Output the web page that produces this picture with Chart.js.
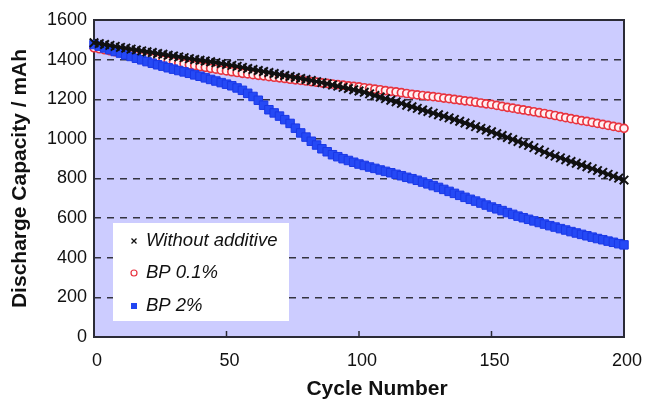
<!DOCTYPE html>
<html>
<head>
<meta charset="utf-8">
<script src="https://cdn.jsdelivr.net/npm/chart.js@4.4.0/dist/chart.umd.min.js"></script>
<style>
  body { margin: 0; background: #fff; }
  canvas { display: block; }
</style>
</head>
<body>
<canvas id="capChart" width="648" height="399"></canvas>
<script>
// cycle numbers (every 2nd cycle)
const cycles = [0, 2, 4, 6, 8, 10, 12, 14, 16, 18, 20, 22, 24, 26, 28, 30, 32, 34, 36, 38,
    40, 42, 44, 46, 48, 50, 52, 54, 56, 58, 60, 62, 64, 66, 68, 70, 72, 74, 76, 78,
    80, 82, 84, 86, 88, 90, 92, 94, 96, 98, 100, 102, 104, 106, 108, 110, 112, 114, 116, 118,
    120, 122, 124, 126, 128, 130, 132, 134, 136, 138, 140, 142, 144, 146, 148, 150, 152, 154, 156, 158,
    160, 162, 164, 166, 168, 170, 172, 174, 176, 178, 180, 182, 184, 186, 188, 190, 192, 194, 196, 198, 200];

const withoutAdditive = [1485, 1481, 1476, 1472, 1467, 1462, 1458, 1453, 1449, 1444, 1440, 1436, 1431, 1427, 1422, 1418, 1414, 1410, 1405, 1401,
    1397, 1393, 1389, 1385, 1380, 1376, 1371, 1366, 1361, 1355, 1350, 1345, 1340, 1335, 1330, 1325, 1320, 1315, 1310, 1305,
    1300, 1295, 1289, 1284, 1278, 1272, 1266, 1260, 1254, 1248, 1242, 1235, 1227, 1219, 1211, 1203, 1195, 1187, 1179, 1170,
    1162, 1154, 1146, 1138, 1130, 1122, 1114, 1106, 1098, 1089, 1080, 1071, 1062, 1053, 1045, 1036, 1026, 1017, 1007, 997,
    987, 977, 967, 956, 944, 933, 922, 913, 904, 895, 886, 877, 868, 859, 850, 840, 831, 821, 811, 802, 792];

const bp01 = [1460, 1455, 1450, 1445, 1440, 1435, 1430, 1425, 1420, 1415, 1410, 1406, 1401, 1397, 1392, 1388, 1383, 1379, 1374, 1370,
    1365, 1361, 1356, 1352, 1347, 1343, 1339, 1335, 1331, 1328, 1324, 1321, 1318, 1314, 1311, 1308, 1305, 1301, 1298, 1295,
    1292, 1289, 1286, 1283, 1280, 1277, 1274, 1271, 1268, 1265, 1262, 1258, 1255, 1251, 1248, 1244, 1240, 1237, 1233, 1229,
    1225, 1222, 1219, 1216, 1213, 1210, 1206, 1203, 1199, 1196, 1192, 1189, 1185, 1181, 1177, 1174, 1169, 1164, 1159, 1155,
    1150, 1146, 1141, 1137, 1132, 1128, 1123, 1118, 1112, 1107, 1102, 1097, 1092, 1088, 1083, 1078, 1073, 1068, 1063, 1058, 1053];

const bp2 = [1476, 1468, 1459, 1450, 1441, 1433, 1424, 1416, 1407, 1399, 1390, 1382, 1374, 1367, 1359, 1352, 1345, 1338, 1331, 1323,
    1316, 1308, 1300, 1292, 1284, 1276, 1268, 1257, 1245, 1230, 1214, 1195, 1170, 1147, 1131, 1115, 1097, 1078, 1054, 1030,
    1009, 988, 969, 950, 935, 920, 910, 900, 891, 882, 873, 866, 858, 851, 843, 836, 829, 821, 814, 806,
    799, 791, 782, 773, 764, 755, 745, 735, 725, 715, 705, 695, 686, 676, 666, 656, 647, 638, 628, 619,
    610, 602, 594, 586, 578, 570, 562, 555, 547, 540, 532, 525, 518, 511, 504, 497, 491, 484, 478, 471, 465];

const seriesNames = ['Without additive', 'BP 0.1%', 'BP 2%'];
const xTicks = [0, 50, 100, 150, 200];

const FONT = "'Liberation Sans', Arial, sans-serif";

function points(vals) {
    return cycles.map((c, i) => ({ x: c, y: vals[i] }));
}

// lavender plot area, frame and inward x tick marks
const plotFrame = {
    id: 'plotFrame',
    beforeDraw(chart) {
        const { ctx, chartArea: a } = chart;
        ctx.save();
        ctx.fillStyle = '#ccccff';
        ctx.fillRect(a.left, a.top, a.right - a.left, a.bottom - a.top);
        ctx.restore();
    },
    beforeDatasetsDraw(chart) {
        const { ctx, chartArea: a } = chart;
        const xs = chart.scales.x;
        ctx.save();
        ctx.strokeStyle = '#2b2b36';
        ctx.lineWidth = 2;
        ctx.strokeRect(a.left, a.top, a.right - a.left, a.bottom - a.top);
        ctx.lineWidth = 1.5;
        xTicks.slice(1, -1).forEach(v => {
            const px = xs.getPixelForValue(v);
            ctx.beginPath();
            ctx.moveTo(px, a.bottom);
            ctx.lineTo(px, a.bottom - 6);
            ctx.stroke();
        });
        ctx.restore();
    }
};

// white legend box in lower left of the plot, and the x axis title
const boxLegend = {
    id: 'boxLegend',
    afterDatasetsDraw(chart) {
        const { ctx, chartArea: a } = chart;
        const bx = a.left + 19, by = a.bottom - 114;
        ctx.save();
        ctx.fillStyle = '#ffffff';
        ctx.fillRect(bx, by, 176, 98);
        ctx.font = 'italic 18.5px ' + FONT;
        ctx.textBaseline = 'middle';
        ctx.fillStyle = '#111';
        const rows = [18, 50, 83];
        rows.forEach((dy, i) => {
            const mx = bx + 21, my = by + dy;
            if (i === 0) {
                ctx.strokeStyle = '#111';
                ctx.lineWidth = 1.3;
                ctx.beginPath();
                ctx.moveTo(mx - 2.5, my - 2.5); ctx.lineTo(mx + 2.5, my + 2.5);
                ctx.moveTo(mx + 2.5, my - 2.5); ctx.lineTo(mx - 2.5, my + 2.5);
                ctx.stroke();
            } else if (i === 1) {
                ctx.strokeStyle = '#e8333f';
                ctx.lineWidth = 1.2;
                ctx.beginPath();
                ctx.arc(mx, my, 3, 0, Math.PI * 2);
                ctx.stroke();
            } else {
                ctx.fillStyle = '#2246f2';
                ctx.fillRect(mx - 3, my - 3, 6, 6);
            }
            ctx.fillStyle = '#111';
            ctx.fillText(seriesNames[i], bx + 33, my);
        });

        ctx.font = 'bold 21px ' + FONT;
        ctx.textAlign = 'center';
        ctx.textBaseline = 'middle';
        ctx.fillText('Cycle Number', (a.left + a.right) / 2 + 18, 389);
        ctx.restore();
    }
};

new Chart(document.getElementById('capChart'), {
    type: 'scatter',
    data: {
        datasets: [
            {
                label: seriesNames[0],
                data: points(withoutAdditive),
                showLine: true,
                borderWidth: 3,
                borderColor: '#111111',
                pointStyle: 'crossRot',
                pointRadius: 6,
                pointBorderColor: '#111111',
                pointBackgroundColor: '#111111',
                pointBorderWidth: 2,
                order: 0
            },
            {
                label: seriesNames[1],
                data: points(bp01),
                showLine: true,
                borderWidth: 2,
                borderColor: '#e8333f',
                pointStyle: 'circle',
                pointRadius: 4,
                pointBorderColor: '#e8333f',
                pointBackgroundColor: '#fff0f2',
                pointBorderWidth: 1.7,
                order: 2
            },
            {
                label: seriesNames[2],
                data: points(bp2),
                showLine: true,
                borderWidth: 6,
                borderColor: '#2549f5',
                pointStyle: 'rect',
                pointRadius: 6,
                pointBorderColor: '#1a38e6',
                pointBackgroundColor: '#2549f5',
                pointBorderWidth: 1,
                order: 1
            }
        ]
    },
    options: {
        responsive: false,
        animation: false,
        clip: false,
        layout: { padding: { left: 0, top: 20, right: 24, bottom: 0 } },
        plugins: {
            legend: { display: false },
            tooltip: { enabled: false }
        },
        scales: {
            x: {
                type: 'linear',
                min: 0,
                max: 200,
                afterFit(scale) {
                    scale.height = 62;
                    scale.paddingLeft = 0;
                    scale.paddingRight = 0;
                },
                afterBuildTicks(scale) {
                    scale.ticks = xTicks.map(v => ({ value: v }));
                },
                grid: { display: false },
                border: { display: false },
                ticks: {
                    font: { family: FONT, size: 18 },
                    color: '#111',
                    padding: 5,
                    labelOffset: 3,
                    maxRotation: 0,
                    autoSkip: false,
                    callback: v => String(v)
                }
            },
            y: {
                min: 0,
                max: 1600,
                afterFit(scale) {
                    scale.width = 94;
                },
                grid: {
                    drawTicks: false,
                    lineWidth: 1.5,
                    color: ctx => (ctx.tick && (ctx.tick.value === 0 || ctx.tick.value === 1600)) ? 'rgba(0,0,0,0)' : '#333340'
                },
                border: { display: false, dash: [7, 6] },
                ticks: {
                    stepSize: 200,
                    font: { family: FONT, size: 18 },
                    color: '#111',
                    padding: 7,
                    callback: v => String(v)
                },
                title: {
                    display: true,
                    text: 'Discharge Capacity / mAh',
                    font: { family: FONT, size: 21, weight: 'bold' },
                    color: '#111',
                    padding: { top: 8, bottom: 0 }
                }
            }
        }
    },
    plugins: [plotFrame, boxLegend]
});
</script>
</body>
</html>
